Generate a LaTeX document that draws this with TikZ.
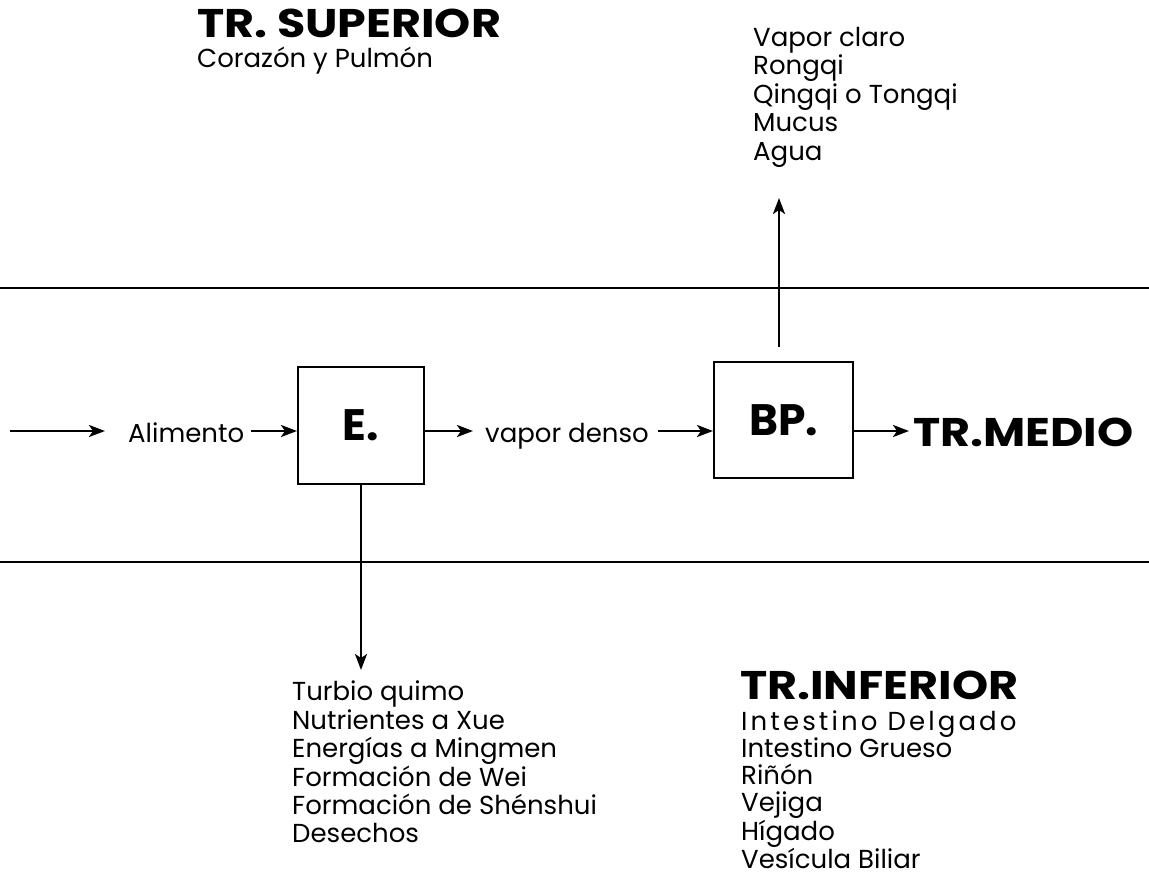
\documentclass[tikz,border=0pt]{standalone}
\usepackage{fontspec}
\setmainfont{Poppins}
\usetikzlibrary{arrows.meta}

\begin{document}
\begin{tikzpicture}[x=1pt,y=-1pt,
    caja/.style={draw, line width=2pt, inner sep=0pt, font=\fontsize{44}{44}\selectfont\bfseries},
    flecha/.style={line width=2.4pt, -{Stealth[length=16pt,width=12pt,inset=4pt]}},
    regla/.style={line width=2pt},
    texto/.style={inner sep=0pt, anchor=base west, font=\fontsize{26}{28.5}\selectfont},
    lista/.style={inner sep=0pt, anchor=north west, align=left, font=\fontsize{26}{28.4}\selectfont},
    titulo/.style={inner sep=0pt, anchor=base west, font=\fontsize{40}{40}\selectfont\bfseries\addfontfeature{FakeStretch=1.15}}]
  \useasboundingbox (0,0) rectangle (1149,877);
  % lineas
  \draw[regla] (0,288) -- (1149,288);
  \draw[regla] (0,562) -- (1149,562);
  % TR. SUPERIOR
  \node[titulo] (sup) at (197,38) {TR. SUPERIOR};
  \node[texto] (supo) at (197,68) {Corazón y Pulmón};
  % fila del medio
  \coordinate (entrada) at (10,431);
  \node[texto] (alim) at (128,442) {Alimento};
  \node[caja, minimum width=126pt, minimum height=117pt] (E) at (361,425.5) {E.};
  \node[texto] (vapor) at (485,442) {vapor denso};
  \node[caja, minimum width=139pt, minimum height=116pt] (BP) at (783.5,420) {BP.};
  \node[titulo] (medio) at (913,446) {TR.MEDIO};
  \draw[flecha] (entrada) -- (entrada -| alim.west) [shorten >=23pt];
  \draw[flecha, shorten <=7pt] (alim.east |- entrada) -- (E.west |- entrada);
  \draw[flecha, shorten >=12pt] (E.east |- entrada) -- (vapor.west |- entrada);
  \draw[flecha, shorten <=9pt] (vapor.east |- entrada) -- (BP.west |- entrada);
  \draw[flecha, shorten >=4pt] (BP.east |- entrada) -- (medio.west |- entrada);
  % hacia arriba
  \coordinate (arriba) at (779,198);
  \node[lista] (claro) at (753,27) {Vapor claro\\Rongqi\\Qingqi o Tongqi\\Mucus\\Agua};
  \draw[flecha, shorten <=14pt] (arriba |- BP.north) -- (arriba);
  % hacia abajo
  \coordinate (abajo) at (361,670);
  \node[lista] (turbio) at (292,681) {Turbio quimo\\Nutrientes a Xue\\Energías a Mingmen\\Formación de Wei\\Formación de Shénshui\\Desechos};
  \draw[flecha] (E.south) -- (abajo);
  % TR. INFERIOR
  \node[titulo] (inf) at (740,699) {TR.INFERIOR};
  \node[lista, font=\fontsize{26}{27}\selectfont] (organos) at (741,711) {{\addfontfeature{LetterSpace=12}Intestino Delgado}\\Intestino Grueso\\Riñón\\Vejiga\\Hígado\\Vesícula Biliar};
\end{tikzpicture}
\end{document}
